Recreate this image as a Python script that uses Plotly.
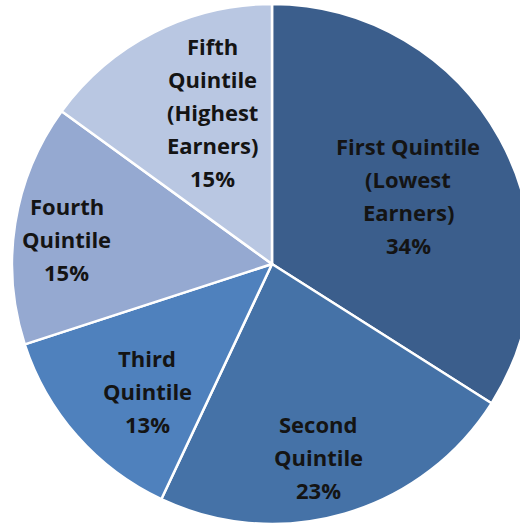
import math
import plotly.graph_objects as go

# Data
categories = ["First Quintile (Lowest Earners)", "Second Quintile", "Third Quintile",
              "Fourth Quintile", "Fifth Quintile (Highest Earners)"]
label_lines = [["First Quintile", "(Lowest", "Earners)"],
               ["Second", "Quintile"],
               ["Third", "Quintile"],
               ["Fourth", "Quintile"],
               ["Fifth", "Quintile", "(Highest", "Earners)"]]
values = [34, 23, 13, 15, 15]

# Style
colors = ["#3B5E8C", "#4572A7", "#4F81BD", "#95A9D1", "#B9C7E2"]
label_radius = [0.584, 0.774, 0.691, 0.791, 0.616]
label_angle_shift = [3.3, 2.6, -5.0, -2.8, 5.6]

# Figure is slightly larger than the window; the pie overflows the right/bottom edges
W, H = 542, 526
ML, MR, MT, MB = 12, 10, 4, 2
R_PX = min(W - ML - MR, H - MT - MB) / 2
LINE = 33
TEXT_DX, TEXT_DY = -1, 3

fig = go.Figure(go.Pie(
    labels=categories, values=values, sort=False, direction="clockwise", rotation=0,
    marker=dict(colors=colors, line=dict(color="white", width=2.5)),
    textinfo="none", hoverinfo="label+percent", showlegend=False,
))

total = sum(values)
cum = 0
annotations = []
for i, v in enumerate(values):
    mid = (cum + v / 2) / total * 360 + label_angle_shift[i]
    cum += v
    th = math.radians(mid)
    dx = label_radius[i] * R_PX * math.sin(th)
    dy = label_radius[i] * R_PX * math.cos(th)
    lines = label_lines[i] + [f"{round(v / total * 100)}%"]
    n = len(lines)
    for j, txt in enumerate(lines):
        off = ((n - 1) / 2 - j) * LINE
        annotations.append(dict(
            x=0.5, y=0.5, xref="paper", yref="paper", text=f"<b>{txt}</b>",
            showarrow=False, xshift=dx + TEXT_DX, yshift=dy + off + TEXT_DY,
            font=dict(family="Open Sans", size=22, color="#141414"),
        ))

fig.update_layout(
    width=W, height=H, margin=dict(l=ML, r=MR, t=MT, b=MB),
    paper_bgcolor="white", plot_bgcolor="white",
    annotations=annotations,
)
fig.write_html(
    "out.html",
    post_script="document.documentElement.style.overflow='hidden';document.body.style.overflow='hidden';",
)
